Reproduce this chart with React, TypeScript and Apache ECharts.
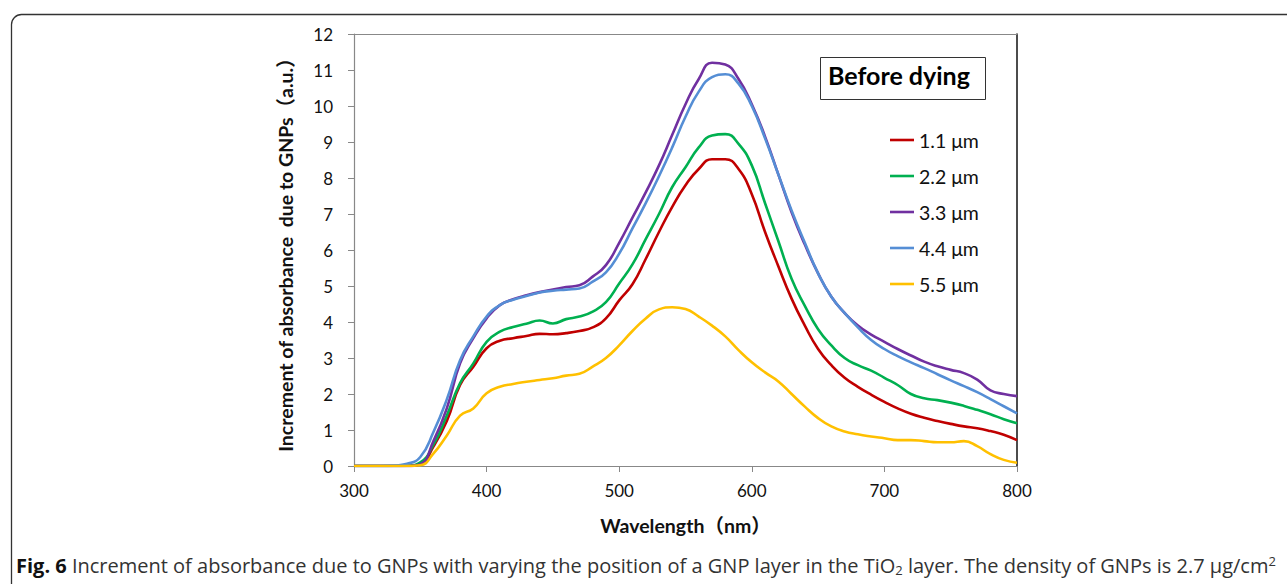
import React, { useEffect, useRef } from "react";
import * as echarts from "echarts";

const wavelengths = [
  300, 310, 320, 330, 340, 350, 360, 370, 380, 390, 400, 410, 420, 430, 440, 450, 460, 470, 480, 490,
  500, 510, 520, 530, 540, 550, 560, 570, 580, 590, 600, 610, 620, 630, 640, 650, 660, 670, 680, 690,
  700, 710, 720, 730, 740, 750, 760, 770, 780, 790, 800,
];

const seriesNames = ["1.1 μm", "2.2 μm", "3.3 μm", "4.4 μm", "5.5 μm"];
const seriesColors = ["#C00000", "#00B050", "#7030A0", "#558ED5", "#FFC000"];

const red11 = [
  0, 0, 0, 0, 0, 0.05, 0.55, 1.25, 2.25, 2.76, 3.27, 3.48, 3.55, 3.61, 3.67, 3.66, 3.69, 3.75, 3.85, 4.1,
  4.6, 5.05, 5.75, 6.5, 7.2, 7.8, 8.25, 8.52, 8.52, 8.25, 7.55, 6.5, 5.55, 4.65, 3.9, 3.25, 2.8, 2.45, 2.2, 1.98,
  1.78, 1.6, 1.45, 1.34, 1.25, 1.17, 1.1, 1.05, 0.97, 0.87, 0.72,
];
const green22 = [
  0, 0, 0, 0, 0.01, 0.1, 0.6, 1.4, 2.3, 2.85, 3.45, 3.73, 3.86, 3.95, 4.04, 3.96, 4.08, 4.15, 4.29, 4.55,
  5.07, 5.6, 6.3, 7.0, 7.75, 8.3, 8.85, 9.18, 9.22, 8.95, 8.35, 7.3, 6.25, 5.2, 4.45, 3.8, 3.35, 3.0, 2.8, 2.65,
  2.45, 2.25, 2.0, 1.88, 1.83, 1.76, 1.67, 1.56, 1.44, 1.3, 1.19,
];
const purple33 = [
  0, 0, 0, 0, 0, 0.05, 0.7, 1.6, 2.85, 3.55, 4.1, 4.47, 4.63, 4.74, 4.83, 4.9, 4.97, 5.02, 5.26, 5.58,
  6.2, 6.9, 7.6, 8.35, 9.2, 10.05, 10.75, 11.2, 11.15, 10.75, 10.05, 9.15, 8.1, 7.05, 6.15, 5.35, 4.7, 4.25, 3.9, 3.65,
  3.45, 3.25, 3.07, 2.9, 2.77, 2.67, 2.58, 2.4, 2.1, 2.0, 1.94,
];
const blue44 = [
  0, 0, 0, 0.01, 0.06, 0.25, 0.95, 1.85, 2.94, 3.6, 4.15, 4.47, 4.62, 4.72, 4.82, 4.87, 4.9, 4.93, 5.12, 5.38,
  5.9, 6.6, 7.3, 8.05, 8.85, 9.7, 10.4, 10.8, 10.88, 10.62, 10.0, 9.1, 8.1, 7.1, 6.2, 5.35, 4.7, 4.25, 3.85, 3.5,
  3.25, 3.05, 2.88, 2.72, 2.55, 2.38, 2.22, 2.05, 1.86, 1.66, 1.46,
];
const yellow55 = [
  0, 0, 0, 0, 0, 0.02, 0.35, 0.85, 1.4, 1.6, 2.02, 2.2, 2.28, 2.34, 2.39, 2.44, 2.51, 2.56, 2.76, 3.0,
  3.35, 3.75, 4.1, 4.35, 4.41, 4.36, 4.15, 3.9, 3.6, 3.22, 2.88, 2.6, 2.35, 2.0, 1.65, 1.33, 1.1, 0.96, 0.88, 0.82,
  0.77, 0.72, 0.72, 0.69, 0.66, 0.66, 0.69, 0.55, 0.33, 0.17, 0.09,
];
const allValues = [red11, green22, purple33, blue44, yellow55];

const xTicks = { min: 300, max: 800, interval: 100 };
const yTicks = { min: 0, max: 12, interval: 1 };

const xTitle = "Wavelength（nm）";
const yTitle = "Increment of absorbance  due to GNPs（a.u.）";
const boxLabel = "Before dying";

const FONT = "Lato, 'Noto Sans CJK JP', sans-serif";
const CAPFONT = "'Open Sans', sans-serif";

export default function App() {
  const ref = useRef<HTMLDivElement>(null);
  useEffect(() => {
    document.body.style.margin = "0";
    const chart = echarts.init(ref.current!, null, { renderer: "svg" });
    const series = seriesNames.map((name, i) => ({
      name,
      type: "line",
      smooth: 0.5,
      symbol: "none",
      color: seriesColors[i],
      lineStyle: { width: 2.6, color: seriesColors[i] },
      data: wavelengths.map((w, j) => [w, allValues[i][j]]),
    }));
    chart.setOption({
      animation: false,
      backgroundColor: "#fff",
      textStyle: { fontFamily: FONT },
      grid: { left: 354, right: 270, top: 34, bottom: 118, containLabel: false },
      legend: {
        orient: "vertical",
        left: 885,
        top: 124,
        icon: "rect",
        itemWidth: 24,
        itemHeight: 2.6,
        itemGap: 14,
        textStyle: { fontSize: 19.5, color: "#111", fontFamily: FONT, lineHeight: 22 },
        data: seriesNames,
      },
      xAxis: [
        {
          type: "value",
          min: xTicks.min,
          max: xTicks.max,
          interval: xTicks.interval,
          name: xTitle,
          nameLocation: "middle",
          nameGap: 50,
          nameTextStyle: { fontSize: 19.5, fontWeight: "bold", color: "#111", fontFamily: FONT },
          axisLine: { show: true, lineStyle: { color: "#888", width: 1.2 } },
          axisTick: { show: true, inside: false, length: 6, lineStyle: { color: "#888" } },
          axisLabel: { fontSize: 17, color: "#111", margin: 16, fontFamily: FONT },
          splitLine: { show: false },
        },
        {
          type: "value",
          position: "top",
          min: xTicks.min,
          max: xTicks.max,
          axisLine: { show: true, onZero: false, lineStyle: { color: "#888", width: 1.2 } },
          axisTick: { show: false },
          axisLabel: { show: false },
          splitLine: { show: false },
        },
      ],
      yAxis: [
        {
          type: "value",
          min: yTicks.min,
          max: yTicks.max,
          interval: yTicks.interval,
          name: yTitle,
          nameLocation: "middle",
          nameGap: 59,
          nameRotate: 90,
          nameTextStyle: { fontSize: 19.5, fontWeight: "bold", color: "#111", fontFamily: FONT },
          axisLine: { show: true, lineStyle: { color: "#888", width: 1.2 } },
          axisTick: { show: true, inside: false, length: 6, lineStyle: { color: "#888" } },
          axisLabel: { fontSize: 17, color: "#111", margin: 21, fontFamily: FONT },
          splitLine: { show: false },
        },
        {
          type: "value",
          position: "right",
          min: yTicks.min,
          max: yTicks.max,
          axisLine: { show: true, onZero: false, lineStyle: { color: "#111", width: 1.5 } },
          axisTick: { show: false },
          axisLabel: { show: false },
          splitLine: { show: false },
        },
      ],
      graphic: [
        {
          type: "rect",
          left: 9,
          top: 12,
          shape: { width: 1320, height: 590, r: 10 },
          style: { fill: "none", stroke: "#333", lineWidth: 1.3 },
          z: 0,
          silent: true,
        },
        {
          type: "rect",
          left: 820,
          top: 57,
          shape: { width: 165, height: 42 },
          style: { fill: "#fff", stroke: "#333", lineWidth: 1 },
          z: 10,
        },
        {
          type: "text",
          left: 828,
          top: 62,
          style: { text: boxLabel, fontSize: 25, fontWeight: "bold", fill: "#000", fontFamily: FONT },
          z: 11,
        },
        {
          type: "text",
          left: 16,
          top: 554,
          style: {
            text:
              "{b|Fig. 6} Increment of absorbance due to GNPs with varying the position of a GNP layer in the TiO{sub|2} layer. The density of GNPs is 2.7 μg/cm{sup|2}",
            fontSize: 20,
            fill: "#333",
            fontFamily: CAPFONT,
            rich: {
              b: { fontSize: 20, fontWeight: "bold", fill: "#111", fontFamily: CAPFONT },
              sub: { fontSize: 13, fill: "#333", fontFamily: CAPFONT, padding: [8, 0, 0, 0] },
              sup: { fontSize: 13, fill: "#333", fontFamily: CAPFONT, padding: [0, 0, 10, 0] },
            },
          },
          z: 11,
        },
      ],
      series,
    });
    return () => chart.dispose();
  }, []);
  return <div ref={ref} style={{ width: 1287, height: 584 }} />;
}
